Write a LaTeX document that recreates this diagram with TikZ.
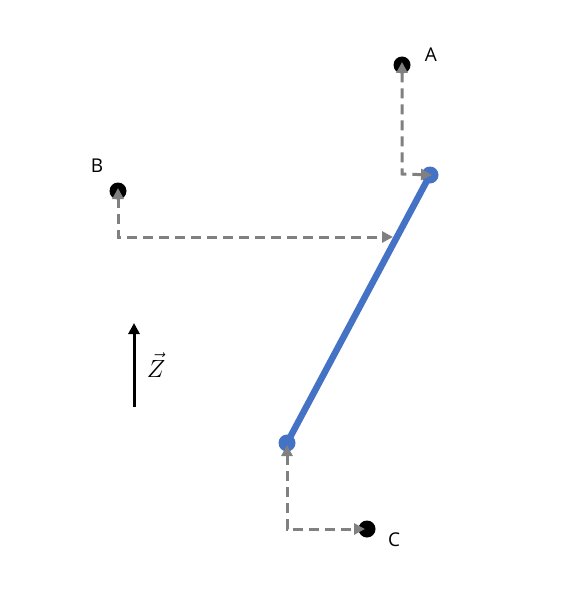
\documentclass[tikz,border=0pt]{standalone}
\usepackage{fontspec}
\setmainfont{Open Sans}
\usetikzlibrary{arrows.meta}
\definecolor{segblue}{RGB}{68,114,196}
\definecolor{dashgray}{RGB}{128,128,128}
\begin{document}
\begin{tikzpicture}[x=1pt,y=-1pt,
  blackdot/.style={circle,fill=black,inner sep=0pt,minimum size=17pt},
  bluedot/.style={circle,fill=segblue,inner sep=0pt,minimum size=17pt},
  proj/.style={draw=dashgray,line width=3pt,dash pattern=on 10pt off 6pt,
    {Triangle[length=11pt,width=11pt]}-{Triangle[length=11pt,width=11pt]}},
  lbl/.style={font=\fontsize{19}{22}\selectfont}]
\useasboundingbox (0,0) rectangle (563,591);
\node[blackdot] (A) at (402,65) {};
\node[blackdot] (B) at (118,191) {};
\node[blackdot] (C) at (367,529) {};
\node[bluedot] (P) at (430,175) {};
\node[bluedot] (Q) at (287,443) {};
\draw[segblue,line width=6.5pt] (P.center) -- (Q.center);
\coordinate (ca) at (402,174);
\coordinate (cb) at (118,237);
\coordinate (cbe) at (393,237);
\coordinate (cc) at (287,529);
\draw[proj] ([yshift=3pt]A.center) -- (ca) -- ([xshift=2pt]P.center);
\draw[proj] ([yshift=3pt]B.center) -- (cb) -- (cbe);
\draw[proj] ([yshift=-2pt]Q.center) -- (cc) -- ([xshift=-2pt]C.center);
\node[lbl] (la) at (431,55) {A};
\node[lbl] (lb) at (97,166) {B};
\node[lbl] (lc) at (394,540) {C};
\coordinate (z1) at (134,407);
\coordinate (z2) at (134,323);
\draw[line width=3pt,-{Triangle[length=11pt,width=11pt]}] (z1) -- (z2);
\node[font=\fontsize{25}{28}\selectfont,inner sep=0pt] (lz) at (156,365) {$\vec{Z}$};
\end{tikzpicture}
\end{document}
